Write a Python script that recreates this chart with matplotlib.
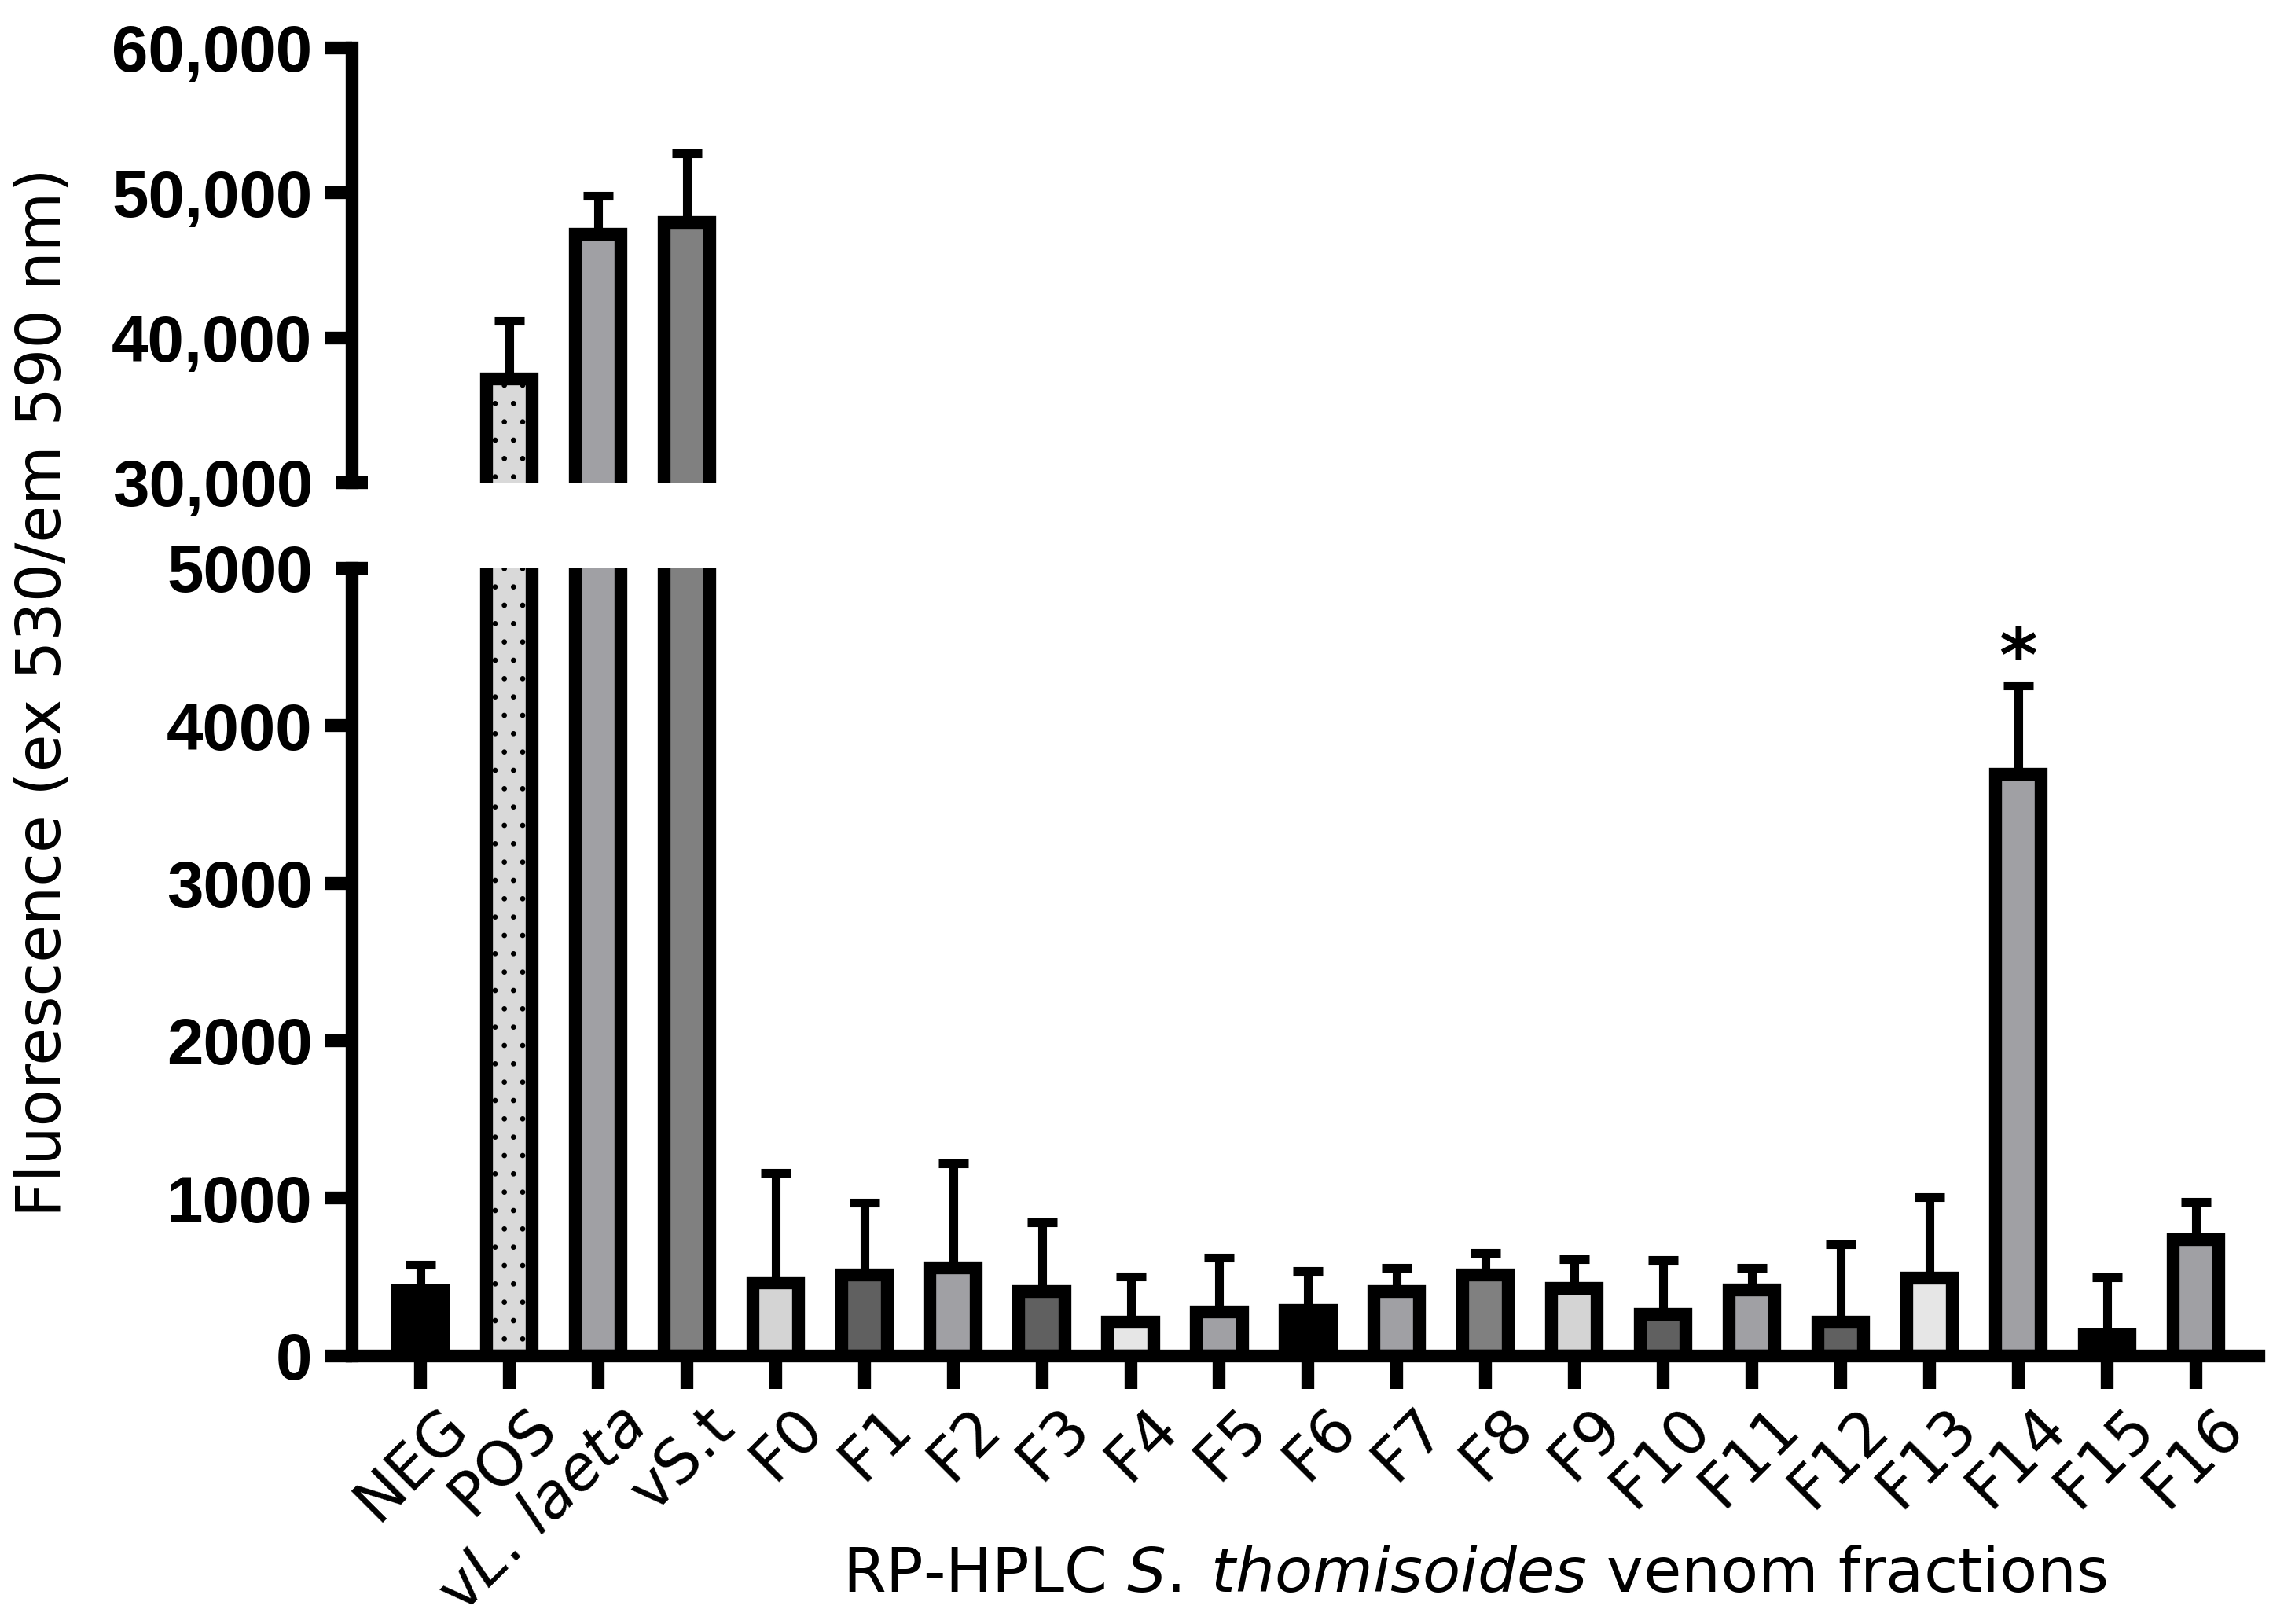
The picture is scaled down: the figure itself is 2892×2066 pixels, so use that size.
import numpy as np
import matplotlib
matplotlib.use('Agg')
import matplotlib.pyplot as plt
from matplotlib.ticker import FixedLocator, FixedFormatter, StrMethodFormatter
from matplotlib.transforms import ScaledTranslation

# data (mean and upper SD)
labels = ['NEG', 'POS', r'v$\mathit{L.\,laeta}$', 'vS.t',
          'F0', 'F1', 'F2', 'F3', 'F4', 'F5', 'F6', 'F7', 'F8', 'F9',
          'F10', 'F11', 'F12', 'F13', 'F14', 'F15', 'F16']
means = [410, 37150, 47150, 47940,
         463, 510, 558, 408, 210, 275, 285, 408, 510, 427,
         263, 417, 210, 492, 3690, 133, 737]
sd = [168, 4020, 2630, 4790,
      700, 463, 662, 437, 293, 348, 252, 149, 143, 185,
      344, 140, 497, 515, 564, 365, 241]
fills = ['#000000', '#d9d9d9', '#a0a0a4', '#808080',
         '#d4d4d4', '#606060', '#a0a0a4', '#606060', '#e6e6e6', '#a0a0a4',
         '#000000', '#a0a0a4', '#808080', '#d4d4d4', '#606060', '#a0a0a4',
         '#606060', '#e6e6e6', '#a0a0a4', '#000000', '#a0a0a4']
hatches = ['', '.', '', ''] + [''] * 17
star_bar = 18

W, H, DPI = 2892, 2066, 140
fig = plt.figure(figsize=(W / DPI, H / DPI), dpi=DPI)

left, right = 448 / W, 2874 / W
ax_lo = fig.add_axes([left, 1 - 1724.5 / H, right - left, (1724.5 - 723) / H])
ax_hi = fig.add_axes([left, 1 - 614 / H, right - left, (614 - 61) / H])

x = np.arange(len(labels))
LW = 8.4
for ax in (ax_lo, ax_hi):
    ax.errorbar(x, means, yerr=[np.zeros(len(sd)), sd], fmt='none',
                ecolor='black', elinewidth=5.7, capsize=10, capthick=5.7,
                zorder=1)
    bars = ax.bar(x, means, width=0.516, color=fills, edgecolor='black',
                  linewidth=LW, zorder=2)
    for b, h in zip(bars, hatches):
        b.set_hatch(h)
    ax.set_xlim(-0.77, 20.71)
    ax.spines['top'].set_visible(False)
    ax.spines['right'].set_visible(False)
    ax.spines['left'].set_linewidth(LW)
    ax.spines['bottom'].set_linewidth(LW)
    ax.tick_params(axis='y', which='major', direction='out', length=17.5,
                   width=LW, pad=8.5, labelsize=43)
    ax.tick_params(axis='y', which='minor', direction='inout', length=20.5,
                   width=LW, pad=15.5, labelsize=43)

# lower panel
ax_lo.set_ylim(0, 5000)
ax_lo.yaxis.set_major_locator(FixedLocator([0, 1000, 2000, 3000, 4000]))
ax_lo.yaxis.set_minor_locator(FixedLocator([5000]))
ax_lo.yaxis.set_minor_formatter(FixedFormatter(['5000']))
ax_lo.set_xticks(x)
ax_lo.set_xticklabels(labels, rotation=45, ha='right', va='top',
                      rotation_mode='anchor', fontsize=40)
ax_lo.tick_params(axis='x', direction='out', length=21.6, width=LW, pad=5)
shift = ScaledTranslation(0.15, 0, fig.dpi_scale_trans)
for lbl in ax_lo.get_xticklabels():
    lbl.set_transform(lbl.get_transform() + shift)

# upper panel
ax_hi.set_ylim(30000, 60000)
ax_hi.spines['bottom'].set_visible(False)
ax_hi.set_xticks([])
ax_hi.yaxis.set_major_locator(FixedLocator([40000, 50000, 60000]))
ax_hi.yaxis.set_major_formatter(StrMethodFormatter('{x:,.0f}'))
ax_hi.yaxis.set_minor_locator(FixedLocator([30000]))
ax_hi.yaxis.set_minor_formatter(FixedFormatter(['30,000']))

for ax in (ax_lo, ax_hi):
    plt.setp(ax.get_yticklabels(which='both'), fontweight='bold',
             family=['Liberation Sans', 'DejaVu Sans'])

# significance mark
ax_lo.text(star_bar, means[star_bar] + sd[star_bar] + 30, '*',
           ha='center', va='baseline', fontsize=48, fontweight='bold')

fig.text(0.019, 0.5737, 'Fluorescence (ex 530/em 590 nm)', rotation=90,
         ha='center', va='center', fontsize=40)
fig.text(0.6487, 0.0305, r'RP-HPLC $\mathit{S.\:thomisoides}$ venom fractions',
         ha='center', va='center', fontsize=40.5)

fig.savefig('out.png', dpi=DPI)
